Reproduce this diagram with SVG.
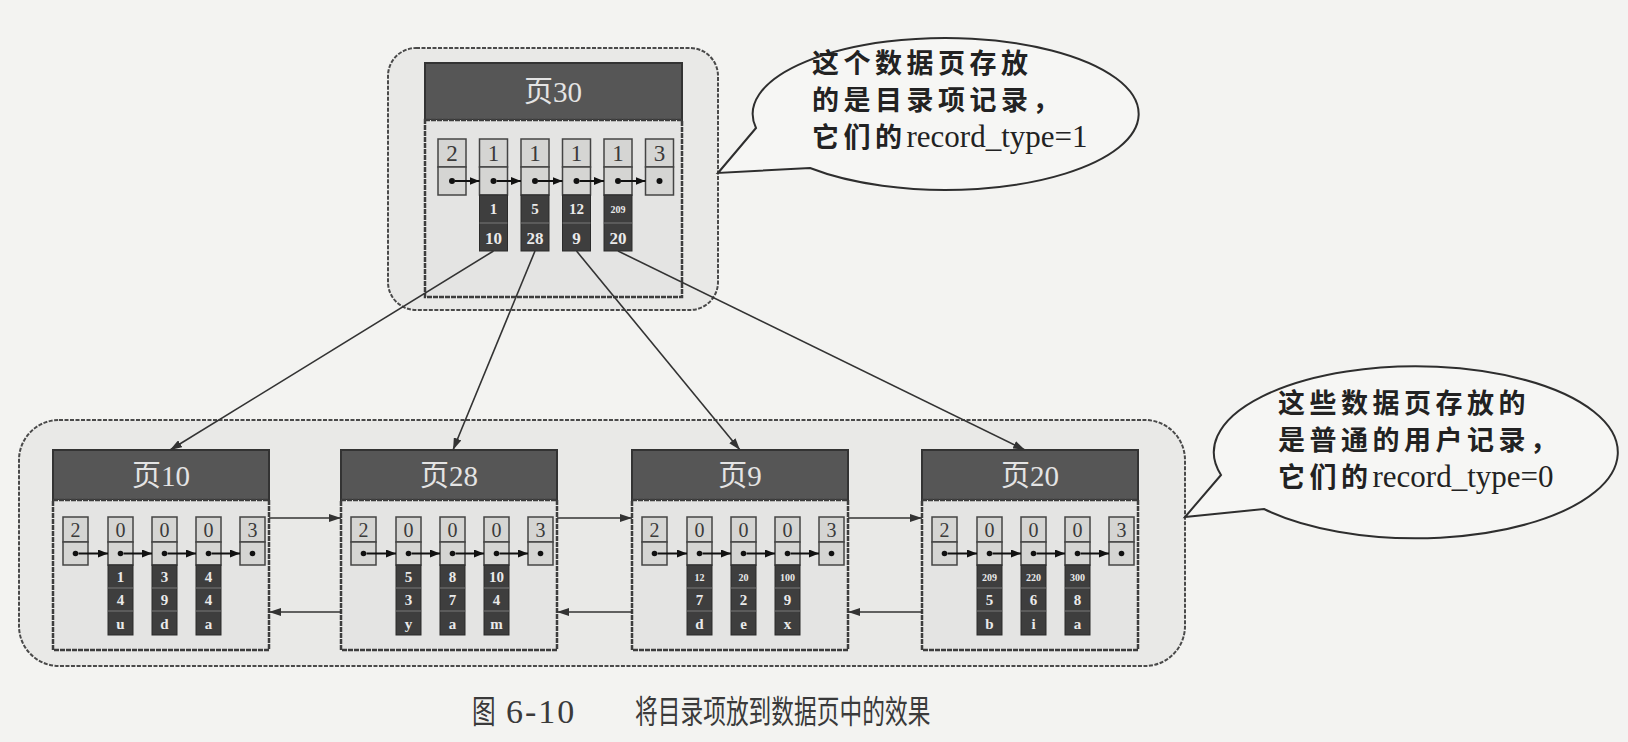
<svg xmlns="http://www.w3.org/2000/svg" width="1628" height="742" viewBox="0 0 1628 742">
<defs>
<marker id="arr" viewBox="0 0 12 8" refX="12" refY="4" markerWidth="12" markerHeight="8" markerUnits="userSpaceOnUse" orient="auto"><path d="M0,0 L12,4 L0,8 Z" fill="#333"/></marker>
<marker id="arrS" viewBox="0 0 10 8" refX="10" refY="4" markerWidth="10" markerHeight="8" markerUnits="userSpaceOnUse" orient="auto"><path d="M0,0 L10,4 L0,8 Z" fill="#111"/></marker>
<style>
.cont{fill:#e9e9e7;stroke:#4a4a4a;stroke-width:2;stroke-dasharray:4 1.5}
.hdr{fill:#565656;stroke:#333;stroke-width:2}
.body{fill:#e4e4e3;stroke:#3d3d3d;stroke-width:2.5;stroke-dasharray:5 1}
.lc{fill:#d5d5d3;stroke:#444;stroke-width:1.5}
.dc{fill:#3e3e3e;stroke:#2a2a2a;stroke-width:1}
.sep{stroke:#888;stroke-width:0.8}
.ttl{font-family:"Liberation Serif","Noto Sans CJK SC",serif;font-size:29px;fill:#e4e4e4;text-anchor:middle}
.n{font-family:"Liberation Serif",serif;font-size:20px;fill:#3a3a3a;text-anchor:middle}
.nt{font-family:"Liberation Serif",serif;font-size:23px;fill:#3a3a3a;text-anchor:middle}
.w{font-family:"Liberation Serif",serif;font-size:15px;fill:#eaeaea;text-anchor:middle;font-weight:bold}
.ws{font-size:10px}
.wl{font-size:17px}
.dot{fill:#111}
.ln{stroke:#333;stroke-width:1.6;fill:none}
.dl{stroke:#111;stroke-width:2;fill:none}
.co{fill:#f6f6f4;stroke:#2e2e2e;stroke-width:2}
.ct{font-family:"Liberation Serif","Noto Sans CJK SC",serif;font-size:31px;fill:#222}
.cj{font-family:"Noto Sans CJK SC",sans-serif;font-weight:bold;font-size:27px;letter-spacing:4.5px}
.cap{font-family:"Noto Sans CJK SC",sans-serif;font-size:32px;fill:#3a3a3a}
.capn{font-family:"Liberation Serif",serif;font-size:34px;fill:#3a3a3a;letter-spacing:2px}
</style>
</defs>
<rect x="0" y="0" width="1628" height="742" fill="#f3f3f1"/>

<g id="top-container"><rect class="cont" x="388" y="48" width="330" height="262" rx="28"/></g>
<g id="bottom-container"><rect class="cont" x="19" y="420" width="1166" height="246" rx="40"/></g>

<g id="page30">
<rect class="hdr" x="425" y="63" width="257" height="57"/>
<rect class="body" x="425" y="120" width="257" height="177"/>
<text class="ttl" x="553" y="102">页30</text>
<rect class="lc" x="438" y="139" width="28" height="28"/><rect class="lc" x="438" y="167" width="28" height="28"/>
<rect class="lc" x="479.5" y="139" width="28" height="28"/><rect class="lc" x="479.5" y="167" width="28" height="28"/>
<rect class="lc" x="521" y="139" width="28" height="28"/><rect class="lc" x="521" y="167" width="28" height="28"/>
<rect class="lc" x="562.5" y="139" width="28" height="28"/><rect class="lc" x="562.5" y="167" width="28" height="28"/>
<rect class="lc" x="604" y="139" width="28" height="28"/><rect class="lc" x="604" y="167" width="28" height="28"/>
<rect class="lc" x="645.5" y="139" width="28" height="28"/><rect class="lc" x="645.5" y="167" width="28" height="28"/>
<text class="nt" x="452" y="161">2</text><text class="nt" x="493.5" y="161">1</text><text class="nt" x="535" y="161">1</text><text class="nt" x="576.5" y="161">1</text><text class="nt" x="618" y="161">1</text><text class="nt" x="659.5" y="161">3</text>
<circle class="dot" cx="452" cy="181" r="3"/><circle class="dot" cx="493.5" cy="181" r="3"/><circle class="dot" cx="535" cy="181" r="3"/><circle class="dot" cx="576.5" cy="181" r="3"/><circle class="dot" cx="618" cy="181" r="3"/><circle class="dot" cx="659.5" cy="181" r="3"/>
<rect class="dc" x="479.5" y="195" width="28" height="56"/><rect class="dc" x="521" y="195" width="28" height="56"/><rect class="dc" x="562.5" y="195" width="28" height="56"/><rect class="dc" x="604" y="195" width="28" height="56"/>
<line class="sep" x1="479.5" y1="223" x2="507.5" y2="223"/><line class="sep" x1="521" y1="223" x2="549" y2="223"/><line class="sep" x1="562.5" y1="223" x2="590.5" y2="223"/><line class="sep" x1="604" y1="223" x2="632" y2="223"/>
<text class="w" x="493.5" y="214">1</text><text class="w" x="535" y="214">5</text><text class="w" x="576.5" y="214">12</text><text class="w ws" x="618" y="213">209</text>
<text class="w wl" x="493.5" y="244">10</text><text class="w wl" x="535" y="244">28</text><text class="w wl" x="576.5" y="244">9</text><text class="w wl" x="618" y="244">20</text>
<line class="dl" x1="455" y1="181" x2="479.5" y2="181" marker-end="url(#arrS)"/>
<line class="dl" x1="496.5" y1="181" x2="521" y2="181" marker-end="url(#arrS)"/>
<line class="dl" x1="538" y1="181" x2="562.5" y2="181" marker-end="url(#arrS)"/>
<line class="dl" x1="579.5" y1="181" x2="604" y2="181" marker-end="url(#arrS)"/>
<line class="dl" x1="621" y1="181" x2="645.5" y2="181" marker-end="url(#arrS)"/>
</g>

<g id="page10">
<rect class="hdr" x="53" y="450" width="216" height="50"/>
<rect class="body" x="53" y="500" width="216" height="150"/>
<text class="ttl" x="161" y="486">页10</text>
<rect class="lc" x="63" y="517" width="25" height="25"/><rect class="lc" x="63" y="542" width="25" height="23"/>
<rect class="lc" x="108" y="517" width="25" height="25"/><rect class="lc" x="108" y="542" width="25" height="23"/>
<rect class="lc" x="152" y="517" width="25" height="25"/><rect class="lc" x="152" y="542" width="25" height="23"/>
<rect class="lc" x="196" y="517" width="25" height="25"/><rect class="lc" x="196" y="542" width="25" height="23"/>
<rect class="lc" x="240" y="517" width="25" height="25"/><rect class="lc" x="240" y="542" width="25" height="23"/>
<text class="n" x="75.5" y="537">2</text><text class="n" x="120.5" y="537">0</text><text class="n" x="164.5" y="537">0</text><text class="n" x="208.5" y="537">0</text><text class="n" x="252.5" y="537">3</text>
<circle class="dot" cx="75.5" cy="553.5" r="2.8"/><circle class="dot" cx="120.5" cy="553.5" r="2.8"/><circle class="dot" cx="164.5" cy="553.5" r="2.8"/><circle class="dot" cx="208.5" cy="553.5" r="2.8"/><circle class="dot" cx="252.5" cy="553.5" r="2.8"/>
<rect class="dc" x="108" y="565" width="25" height="70"/><rect class="dc" x="152" y="565" width="25" height="70"/><rect class="dc" x="196" y="565" width="25" height="70"/>
<path class="sep" d="M108,588h25M108,611h25M152,588h25M152,611h25M196,588h25M196,611h25"/>
<text class="w" x="120.5" y="582">1</text><text class="w" x="120.5" y="605">4</text><text class="w" x="120.5" y="629">u</text>
<text class="w" x="164.5" y="582">3</text><text class="w" x="164.5" y="605">9</text><text class="w" x="164.5" y="629">d</text>
<text class="w" x="208.5" y="582">4</text><text class="w" x="208.5" y="605">4</text><text class="w" x="208.5" y="629">a</text>
<line class="dl" x1="78.5" y1="553.5" x2="108" y2="553.5" marker-end="url(#arrS)"/>
<line class="dl" x1="123.5" y1="553.5" x2="152" y2="553.5" marker-end="url(#arrS)"/>
<line class="dl" x1="167.5" y1="553.5" x2="196" y2="553.5" marker-end="url(#arrS)"/>
<line class="dl" x1="211.5" y1="553.5" x2="240" y2="553.5" marker-end="url(#arrS)"/>
</g>

<g id="page28">
<rect class="hdr" x="341" y="450" width="216" height="50"/>
<rect class="body" x="341" y="500" width="216" height="150"/>
<text class="ttl" x="449" y="486">页28</text>
<rect class="lc" x="351" y="517" width="25" height="25"/><rect class="lc" x="351" y="542" width="25" height="23"/>
<rect class="lc" x="396" y="517" width="25" height="25"/><rect class="lc" x="396" y="542" width="25" height="23"/>
<rect class="lc" x="440" y="517" width="25" height="25"/><rect class="lc" x="440" y="542" width="25" height="23"/>
<rect class="lc" x="484" y="517" width="25" height="25"/><rect class="lc" x="484" y="542" width="25" height="23"/>
<rect class="lc" x="528" y="517" width="25" height="25"/><rect class="lc" x="528" y="542" width="25" height="23"/>
<text class="n" x="363.5" y="537">2</text><text class="n" x="408.5" y="537">0</text><text class="n" x="452.5" y="537">0</text><text class="n" x="496.5" y="537">0</text><text class="n" x="540.5" y="537">3</text>
<circle class="dot" cx="363.5" cy="553.5" r="2.8"/><circle class="dot" cx="408.5" cy="553.5" r="2.8"/><circle class="dot" cx="452.5" cy="553.5" r="2.8"/><circle class="dot" cx="496.5" cy="553.5" r="2.8"/><circle class="dot" cx="540.5" cy="553.5" r="2.8"/>
<rect class="dc" x="396" y="565" width="25" height="70"/><rect class="dc" x="440" y="565" width="25" height="70"/><rect class="dc" x="484" y="565" width="25" height="70"/>
<path class="sep" d="M396,588h25M396,611h25M440,588h25M440,611h25M484,588h25M484,611h25"/>
<text class="w" x="408.5" y="582">5</text><text class="w" x="408.5" y="605">3</text><text class="w" x="408.5" y="629">y</text>
<text class="w" x="452.5" y="582">8</text><text class="w" x="452.5" y="605">7</text><text class="w" x="452.5" y="629">a</text>
<text class="w" x="496.5" y="582">10</text><text class="w" x="496.5" y="605">4</text><text class="w" x="496.5" y="629">m</text>
<line class="dl" x1="366.5" y1="553.5" x2="396" y2="553.5" marker-end="url(#arrS)"/>
<line class="dl" x1="411.5" y1="553.5" x2="440" y2="553.5" marker-end="url(#arrS)"/>
<line class="dl" x1="455.5" y1="553.5" x2="484" y2="553.5" marker-end="url(#arrS)"/>
<line class="dl" x1="499.5" y1="553.5" x2="528" y2="553.5" marker-end="url(#arrS)"/>
</g>

<g id="page9">
<rect class="hdr" x="632" y="450" width="216" height="50"/>
<rect class="body" x="632" y="500" width="216" height="150"/>
<text class="ttl" x="740" y="486">页9</text>
<rect class="lc" x="642" y="517" width="25" height="25"/><rect class="lc" x="642" y="542" width="25" height="23"/>
<rect class="lc" x="687" y="517" width="25" height="25"/><rect class="lc" x="687" y="542" width="25" height="23"/>
<rect class="lc" x="731" y="517" width="25" height="25"/><rect class="lc" x="731" y="542" width="25" height="23"/>
<rect class="lc" x="775" y="517" width="25" height="25"/><rect class="lc" x="775" y="542" width="25" height="23"/>
<rect class="lc" x="819" y="517" width="25" height="25"/><rect class="lc" x="819" y="542" width="25" height="23"/>
<text class="n" x="654.5" y="537">2</text><text class="n" x="699.5" y="537">0</text><text class="n" x="743.5" y="537">0</text><text class="n" x="787.5" y="537">0</text><text class="n" x="831.5" y="537">3</text>
<circle class="dot" cx="654.5" cy="553.5" r="2.8"/><circle class="dot" cx="699.5" cy="553.5" r="2.8"/><circle class="dot" cx="743.5" cy="553.5" r="2.8"/><circle class="dot" cx="787.5" cy="553.5" r="2.8"/><circle class="dot" cx="831.5" cy="553.5" r="2.8"/>
<rect class="dc" x="687" y="565" width="25" height="70"/><rect class="dc" x="731" y="565" width="25" height="70"/><rect class="dc" x="775" y="565" width="25" height="70"/>
<path class="sep" d="M687,588h25M687,611h25M731,588h25M731,611h25M775,588h25M775,611h25"/>
<text class="w ws" x="699.5" y="581">12</text><text class="w" x="699.5" y="605">7</text><text class="w" x="699.5" y="629">d</text>
<text class="w ws" x="743.5" y="581">20</text><text class="w" x="743.5" y="605">2</text><text class="w" x="743.5" y="629">e</text>
<text class="w ws" x="787.5" y="581">100</text><text class="w" x="787.5" y="605">9</text><text class="w" x="787.5" y="629">x</text>
<line class="dl" x1="657.5" y1="553.5" x2="687" y2="553.5" marker-end="url(#arrS)"/>
<line class="dl" x1="702.5" y1="553.5" x2="731" y2="553.5" marker-end="url(#arrS)"/>
<line class="dl" x1="746.5" y1="553.5" x2="775" y2="553.5" marker-end="url(#arrS)"/>
<line class="dl" x1="790.5" y1="553.5" x2="819" y2="553.5" marker-end="url(#arrS)"/>
</g>

<g id="page20">
<rect class="hdr" x="922" y="450" width="216" height="50"/>
<rect class="body" x="922" y="500" width="216" height="150"/>
<text class="ttl" x="1030" y="486">页20</text>
<rect class="lc" x="932" y="517" width="25" height="25"/><rect class="lc" x="932" y="542" width="25" height="23"/>
<rect class="lc" x="977" y="517" width="25" height="25"/><rect class="lc" x="977" y="542" width="25" height="23"/>
<rect class="lc" x="1021" y="517" width="25" height="25"/><rect class="lc" x="1021" y="542" width="25" height="23"/>
<rect class="lc" x="1065" y="517" width="25" height="25"/><rect class="lc" x="1065" y="542" width="25" height="23"/>
<rect class="lc" x="1109" y="517" width="25" height="25"/><rect class="lc" x="1109" y="542" width="25" height="23"/>
<text class="n" x="944.5" y="537">2</text><text class="n" x="989.5" y="537">0</text><text class="n" x="1033.5" y="537">0</text><text class="n" x="1077.5" y="537">0</text><text class="n" x="1121.5" y="537">3</text>
<circle class="dot" cx="944.5" cy="553.5" r="2.8"/><circle class="dot" cx="989.5" cy="553.5" r="2.8"/><circle class="dot" cx="1033.5" cy="553.5" r="2.8"/><circle class="dot" cx="1077.5" cy="553.5" r="2.8"/><circle class="dot" cx="1121.5" cy="553.5" r="2.8"/>
<rect class="dc" x="977" y="565" width="25" height="70"/><rect class="dc" x="1021" y="565" width="25" height="70"/><rect class="dc" x="1065" y="565" width="25" height="70"/>
<path class="sep" d="M977,588h25M977,611h25M1021,588h25M1021,611h25M1065,588h25M1065,611h25"/>
<text class="w ws" x="989.5" y="581">209</text><text class="w" x="989.5" y="605">5</text><text class="w" x="989.5" y="629">b</text>
<text class="w ws" x="1033.5" y="581">220</text><text class="w" x="1033.5" y="605">6</text><text class="w" x="1033.5" y="629">i</text>
<text class="w ws" x="1077.5" y="581">300</text><text class="w" x="1077.5" y="605">8</text><text class="w" x="1077.5" y="629">a</text>
<line class="dl" x1="947.5" y1="553.5" x2="977" y2="553.5" marker-end="url(#arrS)"/>
<line class="dl" x1="992.5" y1="553.5" x2="1021" y2="553.5" marker-end="url(#arrS)"/>
<line class="dl" x1="1036.5" y1="553.5" x2="1065" y2="553.5" marker-end="url(#arrS)"/>
<line class="dl" x1="1080.5" y1="553.5" x2="1109" y2="553.5" marker-end="url(#arrS)"/>
</g>

<g id="connectors">
<line class="ln" x1="493.5" y1="251" x2="170" y2="450" marker-end="url(#arr)"/>
<line class="ln" x1="535" y1="251" x2="453" y2="450" marker-end="url(#arr)"/>
<line class="ln" x1="576.5" y1="251" x2="740" y2="450" marker-end="url(#arr)"/>
<line class="ln" x1="618" y1="251" x2="1025" y2="450" marker-end="url(#arr)"/>
<line class="ln" x1="269" y1="518" x2="341" y2="518" marker-end="url(#arr)"/>
<line class="ln" x1="557" y1="518" x2="632" y2="518" marker-end="url(#arr)"/>
<line class="ln" x1="848" y1="518" x2="922" y2="518" marker-end="url(#arr)"/>
<line class="ln" x1="341" y1="612" x2="269" y2="612" marker-end="url(#arr)"/>
<line class="ln" x1="632" y1="612" x2="557" y2="612" marker-end="url(#arr)"/>
<line class="ln" x1="922" y1="612" x2="848" y2="612" marker-end="url(#arr)"/>
</g>

<g id="callout-top">
<path class="co" d="M756,128 L718,173 L810,168 A193 76 0 1 0 756,128 Z"/>
<text class="ct" x="812" y="73"><tspan class="cj">这个数据页存放</tspan></text>
<text class="ct" x="812" y="110"><tspan class="cj">的是目录项记录，</tspan></text>
<text class="ct" x="812" y="147"><tspan class="cj">它们的</tspan>record_type=1</text>
</g>

<g id="callout-bottom">
<path class="co" d="M1221,475 L1185,517 L1264,509 A202 86 0 1 0 1221,475 Z"/>
<text class="ct" x="1278" y="413"><tspan class="cj">这些数据页存放的</tspan></text>
<text class="ct" x="1278" y="450"><tspan class="cj">是普通的用户记录，</tspan></text>
<text class="ct" x="1278" y="487"><tspan class="cj">它们的</tspan>record_type=0</text>
</g>

<g id="caption">
<text class="cap" transform="translate(472,723) scale(0.74,1)">图</text>
<text class="capn" x="506" y="723">6-10</text>
<text class="cap" transform="translate(635,723) scale(0.71,1)">将目录项放到数据页中的效果</text>
</g>
</svg>
